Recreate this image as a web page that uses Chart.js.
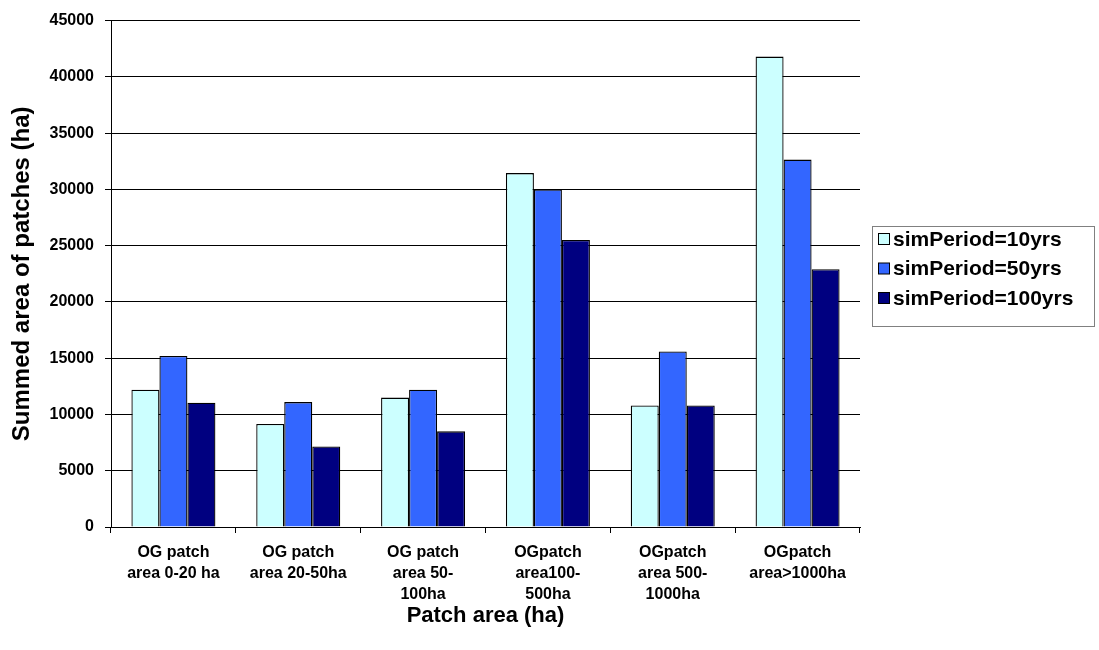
<!DOCTYPE html>
<html>
<head>
<meta charset="utf-8">
<script src="https://cdn.jsdelivr.net/npm/chart.js@4/dist/chart.umd.min.js"></script>
<style>
  html, body { margin: 0; padding: 0; background: #fff; }
  #wrap { width: 1099px; height: 650px; }
</style>
</head>
<body>
<div id="wrap"><canvas id="myChart" width="1099" height="650"></canvas></div>
<script>
const categories = [
  ['OG patch', 'area 0-20 ha'],
  ['OG patch', 'area 20-50ha'],
  ['OG patch', 'area 50-', '100ha'],
  ['OGpatch', 'area100-', '500ha'],
  ['OGpatch', 'area 500-', '1000ha'],
  ['OGpatch', 'area>1000ha']
]
const seriesNames = ['simPeriod=10yrs', 'simPeriod=50yrs', 'simPeriod=100yrs']
const sim10 = [12200, 9150, 11500, 31450, 10800, 41800]
const sim50 = [15200, 11100, 12200, 30000, 15600, 32650]
const sim100 = [11050, 7150, 8500, 25500, 10800, 22900]
const yTicks = [0, 5000, 10000, 15000, 20000, 25000, 30000, 35000, 40000, 45000]

const colors = ['#CCFFFF', '#3366FF', '#000080']
const FONT = '"Liberation Sans", Arial, sans-serif'

// legend drawn as a bordered box at the right, like the original
let boxLegend = {
  id: 'boxLegend',
  afterDraw(chart) {
    let ctx = chart.ctx
    let x0 = 872, y0 = 226, w = 222, h = 100
    ctx.save()
    ctx.strokeStyle = '#808080'
    ctx.lineWidth = 1
    ctx.strokeRect(x0 + 0.5, y0 + 0.5, w, h)
    ctx.font = 'bold 21px ' + FONT
    ctx.textBaseline = 'middle'
    chart.data.datasets.forEach((ds, i) => {
      let cy = y0 + 13 + i * 29.5
      ctx.fillStyle = ds.backgroundColor
      ctx.fillRect(878.5, cy - 5.5, 11, 11)
      ctx.strokeStyle = '#000'
      ctx.strokeRect(878.5, cy - 5.5, 11, 11)
      ctx.fillStyle = '#000'
      ctx.fillText(ds.label, 893, cy + 1)
    })
    ctx.restore()
  }
}

let ctx = document.getElementById('myChart')
new Chart(ctx, {
  type: 'bar',
  data: {
    labels: categories,
    datasets: [
      { label: seriesNames[0], data: sim10, backgroundColor: colors[0] },
      { label: seriesNames[1], data: sim50, backgroundColor: colors[1] },
      { label: seriesNames[2], data: sim100, backgroundColor: colors[2] }
    ].map(d => Object.assign(d, {
      borderColor: '#000', borderWidth: 1.3,
      categoryPercentage: 0.673, barPercentage: 1.0
    }))
  },
  options: {
    responsive: false,
    animation: false,
    layout: { padding: { left: 0, top: 15, right: 239, bottom: 0 } },
    plugins: { legend: { display: false }, tooltip: { enabled: false } },
    scales: {
      x: {
        afterFit: (s) => { s.height = 123 },
        grid: { display: true, drawOnChartArea: false, drawTicks: true, tickLength: 6, color: '#000', offset: true },
        border: { color: '#000', width: 1 },
        ticks: {
          color: '#000', padding: 9, maxRotation: 0, autoSkip: false,
          font: { family: FONT, size: 16, weight: 'bold', lineHeight: '21px' }
        },
        title: {
          display: true, text: 'Patch area (ha)', color: '#000',
          font: { family: FONT, size: 22, weight: 'bold', lineHeight: 1.2 },
          padding: { top: 0, bottom: 21 }
        }
      },
      y: {
        min: 0, max: 45000,
        afterFit: (s) => { s.width = 111 },
        afterBuildTicks: (s) => { s.ticks = yTicks.map(v => ({ value: v })) },
        grid: { color: '#000', lineWidth: 1, drawTicks: true, tickLength: 6 },
        border: { color: '#000', width: 1 },
        ticks: {
          color: '#000', padding: 11,
          font: { family: FONT, size: 16, weight: 'bold' },
          callback: (v) => String(v)
        },
        title: {
          display: true, text: 'Summed area of patches (ha)', color: '#000',
          font: { family: FONT, size: 24, weight: 'bold', lineHeight: 1.2 },
          padding: { top: 8, bottom: 0 }
        }
      }
    }
  },
  plugins: [boxLegend]
})
</script>
</body>
</html>
